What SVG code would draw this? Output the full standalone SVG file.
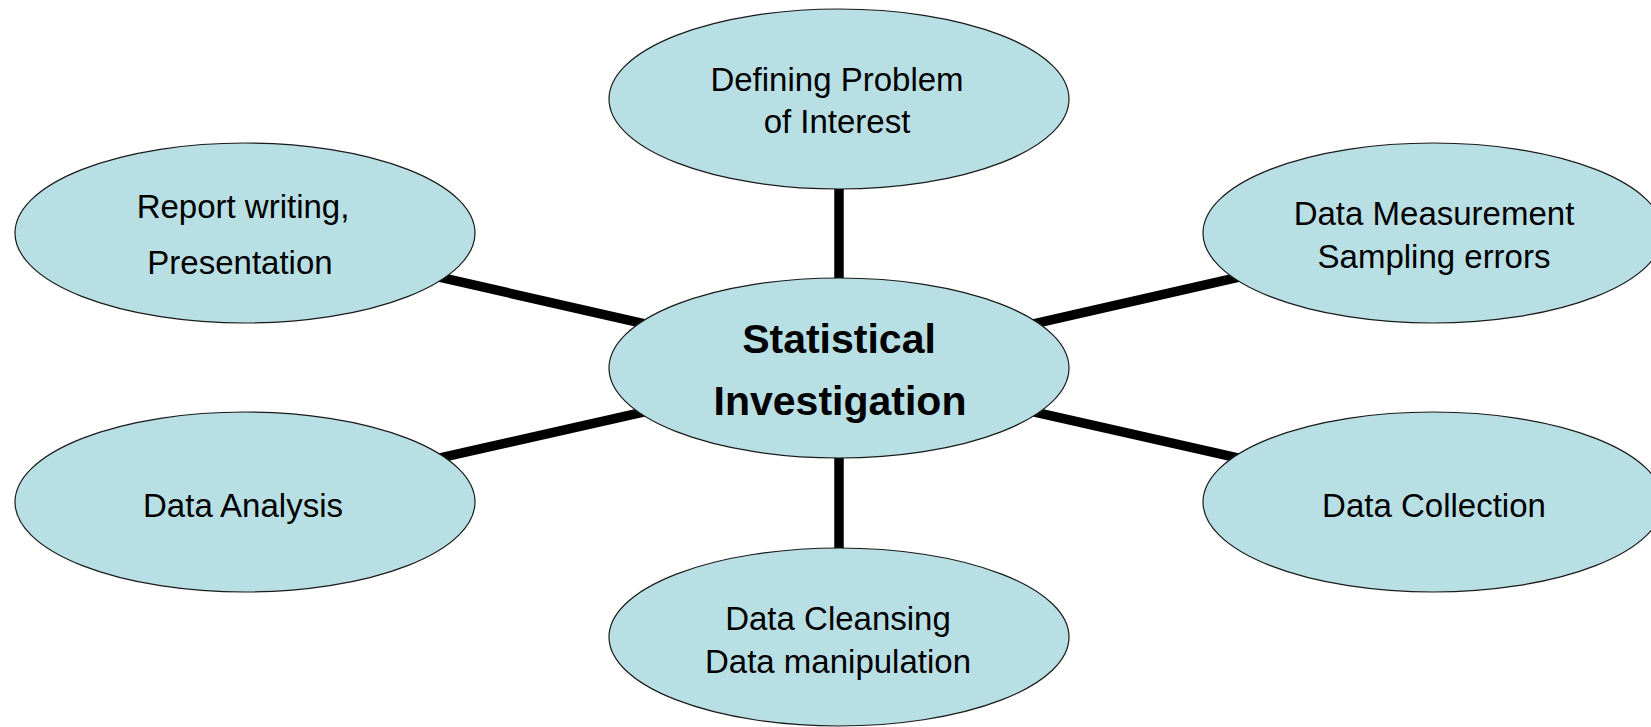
<svg xmlns="http://www.w3.org/2000/svg" width="1651" height="727" viewBox="0 0 1651 727">
<style>
.node ellipse{fill:#B8DFE3;stroke:#1a1a1a;stroke-width:1.2}
.lbl{font-family:"Liberation Sans",Arial,sans-serif;font-size:33px;fill:#000;text-anchor:middle}
.main{font-family:"Liberation Sans",Arial,sans-serif;font-size:41px;font-weight:bold;fill:#000;text-anchor:middle}
.conn line{stroke:#000;stroke-width:9.5}
</style>
<rect width="1651" height="727" fill="#fff"/>
<g id="connectors" class="conn">
<line x1="839" y1="368" x2="839" y2="99"/>
<line x1="839" y1="368" x2="839" y2="637"/>
<line x1="839" y1="368" x2="245" y2="233"/>
<line x1="839" y1="368" x2="245" y2="502"/>
<line x1="839" y1="368" x2="1433" y2="233"/>
<line x1="839" y1="368" x2="1433" y2="502"/>
</g>
<g id="node-defining" class="node">
<ellipse cx="839" cy="99" rx="230" ry="90"/>
<text class="lbl" x="837" y="91">Defining Problem</text>
<text class="lbl" x="837" y="133">of Interest</text>
</g>
<g id="node-center" class="node">
<ellipse cx="839" cy="368" rx="230" ry="90"/>
<text class="main" x="839" y="353">Statistical</text>
<text class="main" x="840" y="415">Investigation</text>
</g>
<g id="node-cleansing" class="node">
<ellipse cx="839" cy="637" rx="230" ry="89"/>
<text class="lbl" x="838" y="630">Data Cleansing</text>
<text class="lbl" x="838" y="673">Data manipulation</text>
</g>
<g id="node-report" class="node">
<ellipse cx="245" cy="233" rx="230" ry="90"/>
<text class="lbl" x="243" y="218">Report writing,</text>
<text class="lbl" x="240" y="274">Presentation</text>
</g>
<g id="node-analysis" class="node">
<ellipse cx="245" cy="502" rx="230" ry="90"/>
<text class="lbl" x="243" y="517">Data Analysis</text>
</g>
<g id="node-measurement" class="node">
<ellipse cx="1433" cy="233" rx="230" ry="90"/>
<text class="lbl" x="1434" y="225">Data Measurement</text>
<text class="lbl" x="1434" y="268">Sampling errors</text>
</g>
<g id="node-collection" class="node">
<ellipse cx="1433" cy="502" rx="230" ry="90"/>
<text class="lbl" x="1434" y="517">Data Collection</text>
</g>
</svg>
